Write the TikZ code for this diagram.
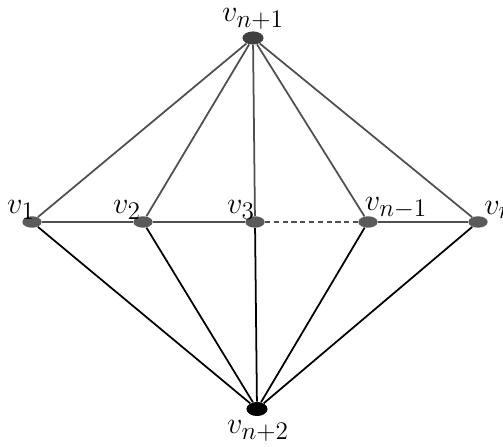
\documentclass[tikz,border=0pt]{standalone}
\usepackage{amsmath}
\definecolor{nodegray}{HTML}{5A5A5A}
\definecolor{edgegray}{HTML}{4F4F4F}
\tikzset{
    vert/.style={ellipse, fill=nodegray, inner sep=0pt, minimum width=11pt, minimum height=6.5pt},
    vlabel/.style={font=\fontsize{19}{21}\selectfont, inner sep=0pt},
    topedge/.style={draw=edgegray, line width=1pt},
    botedge/.style={draw=black, line width=1pt}
}
\usetikzlibrary{shapes.geometric}
\begin{document}
\begin{tikzpicture}[x=0.2mm, y=-0.2mm]
            \useasboundingbox (0,0) rectangle (503,447);

            % Vrcholy
            \node[vert, fill=black!75, minimum width=12pt, minimum height=7.5pt] (top) at (253,38) {};
            \node[vert] (v1) at (32,222) {};
            \node[vert] (v2) at (143,222) {};
            \node[vert] (v3) at (255,222) {};
            \node[vert] (vm) at (368,222) {};
            \node[vert] (vn) at (478,222) {};
            \node[vert, fill=black, minimum width=12pt, minimum height=8pt] (bot) at (257,409) {};

            % Popisky
            \node[vlabel] (ltop) at (253,19) {$v_{n+1}$};
            \node[vlabel] (l1) at (21,210) {$v_1$};
            \node[vlabel] (l2) at (127,210) {$v_2$};
            \node[vlabel] (l3) at (241,210) {$v_3$};
            \node[vlabel] (lm) at (396,208) {$v_{n-1}$};
            \node[vlabel, anchor=west] (ln) at (484,210) {$v_n$};
            \node[vlabel] (lbot) at (258,431) {$v_{n+2}$};

            % Hrany
            \foreach \v in {v1, v2, v3, vm, vn} {
                \draw[topedge] (top) -- (\v);
                \draw[botedge] (bot) -- (\v);
            }
            \draw[topedge] (v1) -- (v2) -- (v3);
            \draw[topedge, dashed, dash pattern=on 3pt off 2pt] (v3) -- (vm);
            \draw[topedge] (vm) -- (vn);
        \end{tikzpicture}
\end{document}
